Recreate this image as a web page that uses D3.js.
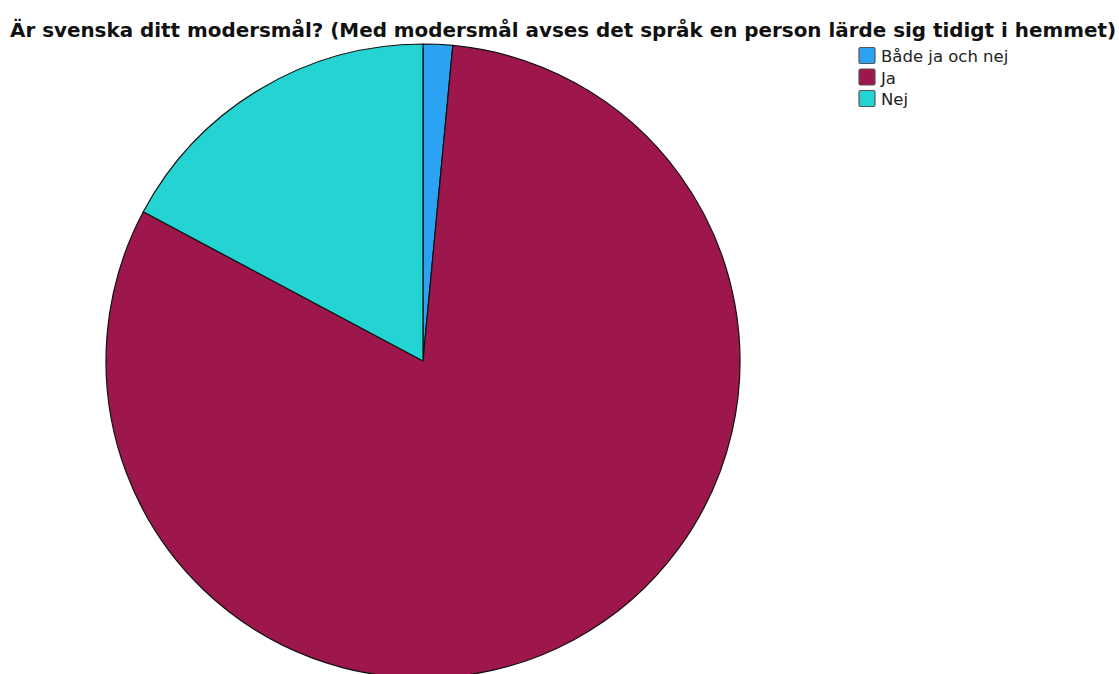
<!DOCTYPE html>
<html><head><meta charset="utf-8">
<script src="https://cdn.jsdelivr.net/npm/d3@7"></script>
<style>body{margin:0;background:#fff;} svg{display:block;}</style>
</head><body>
<svg id="c" width="1119" height="674"></svg>
<script>
const categories = ["Både ja och nej", "Ja", "Nej"];
const values = [1.5, 81.3, 17.2];
const colors = ["#2ba3f2", "#9e174c", "#23d4d2"];
const title = "Är svenska ditt modersmål? (Med modersmål avses det språk en person lärde sig tidigt i hemmet)";

const svg = d3.select("#c");
const cx = 423, cy = 361, r = 317;

svg.append("text").attr("x", 10).attr("y", 37)
  .attr("font-family", "DejaVu Sans, sans-serif").attr("font-weight", "bold")
  .attr("font-size", 19.5).attr("fill", "#111")
  .attr("textLength", 1106).attr("lengthAdjust", "spacingAndGlyphs")
  .text(title);

const pie = d3.pie().sort(null).value(d => d)(values);
const arc = d3.arc().innerRadius(0).outerRadius(r);
const g = svg.append("g").attr("transform", `translate(${cx},${cy})`);
g.selectAll("path").data(pie).join("path")
  .attr("d", arc).attr("fill", (d, i) => colors[i])
  .attr("stroke", "#111").attr("stroke-width", 1.2).attr("stroke-linejoin", "round");

const leg = svg.append("g").attr("transform", "translate(859,47.5)");
const rows = leg.selectAll("g").data(categories).join("g")
  .attr("transform", (d, i) => `translate(0,${i * 21.5})`);
rows.append("rect").attr("width", 16).attr("height", 16).attr("rx", 1.5)
  .attr("fill", (d, i) => colors[i]).attr("stroke", "#555").attr("stroke-width", 1.2);
rows.append("text").attr("x", 22).attr("y", 14.5)
  .attr("font-family", "DejaVu Sans, sans-serif").attr("font-size", 16.5).attr("fill", "#222")
  .text(d => d);
</script>
</body></html>
